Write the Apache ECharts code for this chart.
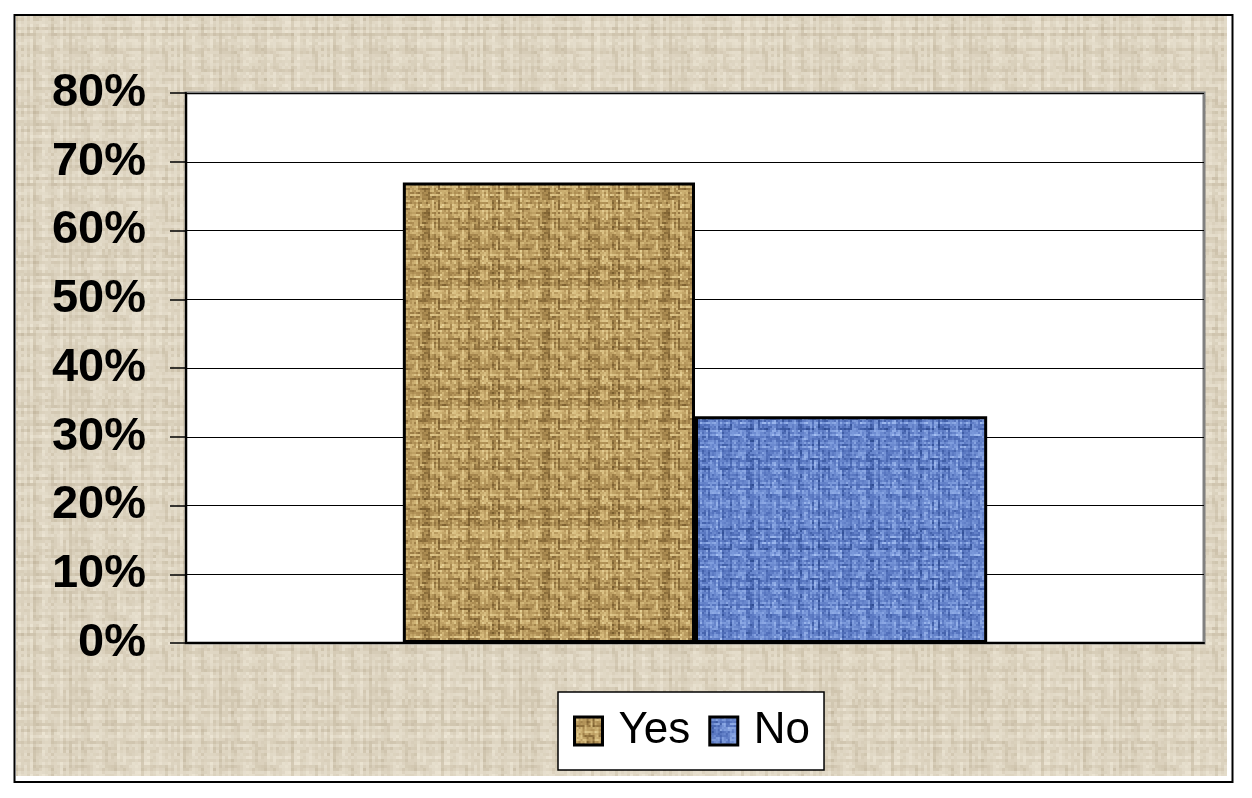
<!DOCTYPE html>
<html>
<head>
<meta charset="utf-8">
<script src="https://cdn.jsdelivr.net/npm/echarts@6/dist/echarts.min.js"></script>
<style>
html,body{margin:0;padding:0;background:#fff;}
#chart{width:1252px;height:798px;}
</style>
</head>
<body>
<div id="chart"></div>
<script>
// ---- data ----
var categories = ['Response'];
var seriesNames = ['Yes', 'No'];
var yesValues = [67];
var noValues = [33];
var yTickLabels = ['0%', '10%', '20%', '30%', '40%', '50%', '60%', '70%', '80%'];

// ---- deterministic texture helper (decoration only) ----
function hash(i, j, s) {
  var h = (Math.imul(i, 374761393) + Math.imul(j, 668265263) + Math.imul(s, 1442695041)) | 0;
  h = Math.imul(h ^ (h >>> 13), 1274126177);
  return ((h ^ (h >>> 16)) >>> 0) / 4294967296;
}
function lerpColor(stops, t) {
  t = Math.max(0, Math.min(1, t));
  var seg = (stops.length - 1) * t;
  var i = Math.min(stops.length - 2, Math.floor(seg));
  var f = seg - i;
  var a = stops[i], b = stops[i + 1];
  return 'rgb(' + Math.round(a[0] + (b[0] - a[0]) * f) + ',' +
    Math.round(a[1] + (b[1] - a[1]) * f) + ',' + Math.round(a[2] + (b[2] - a[2]) * f) + ')';
}
// basket / linen weave
function makeWeave(size, px, cell, stops, seed, noiseAmt, weaveAmt) {
  var c = document.createElement('canvas');
  c.width = size; c.height = size;
  var ctx = c.getContext('2d');
  var n = size / px;
  for (var y = 0; y < n; y++) {
    for (var x = 0; x < n; x++) {
      var ci = Math.floor(x / cell), cj = Math.floor(y / cell);
      var horiz = (ci + cj) % 2 === 0;
      var R = hash(y, 3, seed), C = hash(x, 5, seed + 1);
      var noise = hash(x, y, seed + 2);
      var t = horiz ? (y % cell) : (x % cell);
      var thread = horiz ? R : C;
      var other = horiz ? C : R;
      var v = weaveAmt * thread + (1 - weaveAmt - noiseAmt) * other + noiseAmt * noise;
      if (t === cell - 1) v *= 0.55;
      ctx.fillStyle = lerpColor(stops, v);
      ctx.fillRect(x * px, y * px, px, px);
    }
  }
  return c;
}
var yesTex = makeWeave(120, 2, 5, [[110, 82, 38], [170, 138, 80], [210, 182, 120], [240, 222, 165]], 11, 0.35, 0.5);
var noTex = makeWeave(120, 2, 5, [[40, 70, 140], [85, 115, 190], [125, 155, 220], [170, 196, 245]], 23, 0.35, 0.5);
var bgTex = makeWeave(150, 3, 6, [[196, 184, 160], [216, 206, 185], [228, 220, 202], [240, 233, 216]], 37, 0.3, 0.3);

var chart = echarts.init(document.getElementById('chart'));
var option = {
  animation: false,
  graphic: [
    { type: 'rect', z: -10, shape: { x: 16, y: 16, width: 1211, height: 760 },
      style: { fill: { image: bgTex, repeat: 'repeat' } } },
    { type: 'rect', z: -9, shape: { x: 14.5, y: 15, width: 1218, height: 767 },
      style: { fill: 'none', stroke: '#000', lineWidth: 2 } }
  ],
  grid: {
    left: 186, top: 93, right: 48, bottom: 155,
    show: true, backgroundColor: '#ffffff', borderColor: '#808080', borderWidth: 3
  },
  legend: {
    data: seriesNames,
    left: 558, top: 692,
    orient: 'horizontal',
    backgroundColor: '#ffffff',
    borderColor: '#000', borderWidth: 1.5,
    padding: [17, 14, 17, 15],
    itemWidth: 28, itemHeight: 28, itemGap: 18,
    icon: 'rect',
    itemStyle: { borderColor: '#000', borderWidth: 3 },
    textStyle: { fontFamily: 'Liberation Sans, Arial, sans-serif', fontSize: 44, color: '#000', padding: [0, 0, 0, 11] }
  },
  xAxis: {
    type: 'category',
    data: categories,
    axisLine: { show: true, lineStyle: { color: '#000', width: 2 } },
    axisTick: { show: false },
    axisLabel: { show: false },
    splitLine: { show: false }
  },
  yAxis: {
    type: 'value',
    min: 0, max: 80, interval: 10,
    axisLine: { show: true, lineStyle: { color: '#000', width: 2 } },
    axisTick: { show: true, length: 16, lineStyle: { color: '#000', width: 1.5 } },
    axisLabel: {
      margin: 40,
      fontFamily: 'Liberation Sans, Arial, sans-serif',
      fontWeight: 'bold', fontSize: 47, color: '#000',
      formatter: function (v) { return yTickLabels[Math.round(v / 10)]; }
    },
    splitLine: { show: true, lineStyle: { color: '#000', width: 1 } }
  },
  series: [
    { name: seriesNames[0], type: 'bar', data: yesValues,
      barGap: '0%', barCategoryGap: '42.6%',
      itemStyle: { color: { image: yesTex, repeat: 'repeat' }, borderColor: '#000', borderWidth: 3 } },
    { name: seriesNames[1], type: 'bar', data: noValues,
      barGap: '0%', barCategoryGap: '42.6%',
      itemStyle: { color: { image: noTex, repeat: 'repeat' }, borderColor: '#000', borderWidth: 3 } }
  ]
};
chart.setOption(option);
</script>
</body>
</html>
